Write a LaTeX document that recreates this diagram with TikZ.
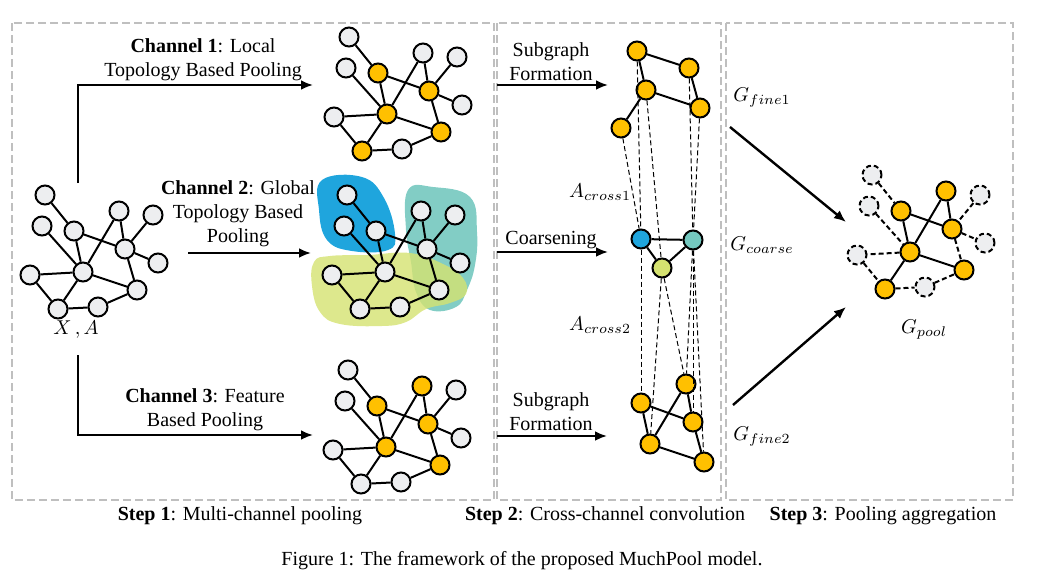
\documentclass[tikz,border=0pt]{standalone}
\usepackage{fontspec}
\setmainfont{Liberation Serif}
\usetikzlibrary{arrows.meta}
\definecolor{gold}{HTML}{FFC000}
\definecolor{lgray}{HTML}{EDEEF0}
\definecolor{cblue}{HTML}{1FA5DD}
\definecolor{cteal}{HTML}{74C8BF}
\definecolor{clime}{HTML}{D5E270}
\definecolor{framegray}{HTML}{BFBFBF}
\tikzstyle{vtx} = [circle, minimum size=9.5pt, inner sep=0pt, draw=black, line width=1pt]
\tikzstyle{gnode} = [vtx, fill=lgray]
\tikzstyle{ynode} = [vtx, fill=gold]
\tikzstyle{dnode} = [vtx, fill=lgray, dash pattern=on 2.5pt off 1.5pt]
\tikzstyle{link} = [line width=1pt]
\tikzstyle{cross} = [line width=0.5pt, dash pattern=on 2.5pt off 1.5pt]
\tikzstyle{panel} = [draw=framegray, line width=0.7pt, dash pattern=on 4pt off 2pt]
\tikzstyle{flow} = [line width=1.2pt, -{Latex[length=6pt,width=5pt]}]
\tikzstyle{lbl} = [align=center, inner sep=0pt]
% one graph, placed around node 8
\newcommand{\graphnodes}[1]{%
  \node[v1] (#1-1) at (-38,-77) {};
  \node[v2] (#1-2) at (-41,-46) {};
  \node[v3] (#1-3) at (-9,-41) {};
  \node[v4] (#1-4) at (36,-61) {};
  \node[v5] (#1-5) at (70,-57) {};
  \node[v6] (#1-6) at (42,-23) {};
  \node[v7] (#1-7) at (75,-9) {};
  \node[v8] (#1-8) at (0,0) {};
  \node[v9] (#1-9) at (-53,3) {};
  \node[v10] (#1-10) at (54,18) {};
  \node[v11] (#1-11) at (-25,37) {};
  \node[v12] (#1-12) at (15,35) {};
}
\newcommand{\graphedges}[1]{%
  \draw[link, ge] (#1-1) -- (#1-3);
  \draw[link, ge] (#1-2) -- (#1-8);
  \draw[link] (#1-3) -- (#1-8);
  \draw[link] (#1-3) -- (#1-6);
  \draw[link] (#1-4) -- (#1-8);
  \draw[link] (#1-4) -- (#1-6);
  \draw[link, ge] (#1-5) -- (#1-6);
  \draw[link, ge] (#1-6) -- (#1-7);
  \draw[link, ge] (#1-6) -- (#1-10);
  \draw[link] (#1-8) -- (#1-10);
  \draw[link] (#1-8) -- (#1-11);
  \draw[link, ge] (#1-8) -- (#1-9);
  \draw[link, ge] (#1-9) -- (#1-11);
  \draw[link, ge] (#1-11) -- (#1-12);
  \draw[link, ge] (#1-12) -- (#1-10);
}
\tikzset{v1/.style=gnode, v2/.style=gnode, v3/.style=gnode, v4/.style=gnode,
  v5/.style=gnode, v6/.style=gnode, v7/.style=gnode, v8/.style=gnode,
  v9/.style=gnode, v10/.style=gnode, v11/.style=gnode, v12/.style=gnode,
  ge/.style={}}

\begin{document}
\begin{tikzpicture}[x=0.5pt, y=-0.5pt]
\useasboundingbox (0,0) rectangle (1044,578);
% panels
\draw[panel] (12,23) rectangle (494,500);
\draw[panel] (497,23) rectangle (721,500);
\draw[panel] (726,23) rectangle (1013,500);

% input graph
\begin{scope}[shift={(83,272)}]
  \graphnodes{in}
  \graphedges{in}
\end{scope}
\node[lbl] (xa) at (76,330) {$X\,,A$};

% channel 1
\begin{scope}[shift={(387,114)}, v3/.style=ynode, v6/.style=ynode, v8/.style=ynode,
  v10/.style=ynode, v11/.style=ynode]
  \graphnodes{ca}
  \graphedges{ca}
\end{scope}

% channel 2, clusters first
\fill[cblue] plot[smooth cycle, tension=0.7] coordinates {(322,180) (362,177) (384,198)
  (395,234) (388,250) (352,251) (327,240) (319,210)};
\fill[cteal, fill opacity=0.9] plot[smooth cycle, tension=0.7] coordinates {(408,190)
  (433,187) (470,197) (477,232) (475,265) (467,290) (456,307) (430,310) (416,292)
  (411,262) (406,230)};
\fill[clime, fill opacity=0.8] plot[smooth cycle, tension=0.7] coordinates {(314,262)
  (330,256) (368,255) (410,253) (443,264) (463,278) (466,294) (450,303) (426,309)
  (406,322) (382,326) (340,324) (320,312) (312,286)};
\begin{scope}[shift={(385,272)}]
  \graphnodes{cb}
  \graphedges{cb}
\end{scope}

% channel 3
\begin{scope}[shift={(386,447)}, v3/.style=ynode, v4/.style=ynode, v6/.style=ynode,
  v8/.style=ynode, v10/.style=ynode]
  \graphnodes{cc}
  \graphedges{cc}
\end{scope}

% channel arrows
\coordinate (in-up) at (78,183);
\coordinate (in-mid) at (188,253);
\coordinate (in-down) at (78,355);
\coordinate (ca-in) at (313,85);
\coordinate (cb-in) at (311,253);
\coordinate (cc-in) at (313,435);
\draw[flow] (in-up) |- (ca-in);
\draw[flow] (in-mid) -- (cb-in);
\draw[flow] (in-down) |- (cc-in);
\node[lbl] (ca-txt) at (203,60) {\textbf{Channel 1}: Local\\Topology Based Pooling};
\node[lbl] (cb-txt) at (238,214) {\textbf{Channel 2}: Global\\Topology Based\\Pooling};
\node[lbl] (cc-txt) at (205,410) {\textbf{Channel 3}: Feature\\Based Pooling};

% step 2: fine 1
\node[ynode] (fa-1) at (637,51) {};
\node[ynode] (fa-2) at (689,68) {};
\node[ynode] (fa-3) at (646,90) {};
\node[ynode] (fa-4) at (700,108) {};
\node[ynode] (fa-5) at (621,128) {};
\draw[link] (fa-1) -- (fa-2);
\draw[link] (fa-1) -- (fa-3);
\draw[link] (fa-2) -- (fa-4);
\draw[link] (fa-3) -- (fa-4);
\draw[link] (fa-3) -- (fa-5);

% coarse
\node[vtx, fill=cblue] (co-1) at (641,239) {};
\node[vtx, fill=cteal] (co-2) at (693,240) {};
\node[vtx, fill=clime] (co-3) at (662,268) {};
\draw[link] (co-1) -- (co-2);
\draw[link] (co-1) -- (co-3);
\draw[link] (co-2) -- (co-3);

% fine 2
\node[ynode] (fb-1) at (686,384) {};
\node[ynode] (fb-2) at (641,403) {};
\node[ynode] (fb-3) at (693,422) {};
\node[ynode] (fb-4) at (650,444) {};
\node[ynode] (fb-5) at (704,462) {};
\draw[link] (fb-2) -- (fb-3);
\draw[link] (fb-2) -- (fb-4);
\draw[link] (fb-1) -- (fb-4);
\draw[link] (fb-1) -- (fb-3);
\draw[link] (fb-3) -- (fb-5);
\draw[link] (fb-4) -- (fb-5);

% cross-channel links
\draw[cross] (fa-5) -- (co-1);
\draw[cross] (fa-1) -- (co-1);
\draw[cross] (fa-3) -- (co-3);
\draw[cross] (fa-2) -- (co-2);
\draw[cross] (fa-4) -- (co-2);
\draw[cross] (co-1) -- (fb-2);
\draw[cross] (co-3) -- (fb-4);
\draw[cross] (co-3) -- (fb-1);
\draw[cross] (co-2) -- (fb-1);
\draw[cross] (co-2) -- (fb-3);
\draw[cross] (co-2) -- (fb-5);

% step 2 arrows and labels
\coordinate (s2a-from) at (497,85);
\coordinate (s2a-to) at (608,85);
\coordinate (s2b-from) at (497,252);
\coordinate (s2b-to) at (608,252);
\coordinate (s2c-from) at (497,436);
\coordinate (s2c-to) at (607,436);
\draw[flow] (s2a-from) -- (s2a-to);
\draw[flow] (s2b-from) -- (s2b-to);
\draw[flow] (s2c-from) -- (s2c-to);
\node[lbl] (sub-a) at (551,62) {Subgraph\\Formation};
\node[lbl] (coars) at (551,240) {Coarsening};
\node[lbl] (sub-b) at (551,412) {Subgraph\\Formation};
\node[lbl] (gfa) at (762,98) {$G_{fine1}$};
\node[lbl] (acr1) at (600,192) {$A_{cross1}$};
\node[lbl] (gco) at (762,245) {$G_{coarse}$};
\node[lbl] (acr2) at (600,325) {$A_{cross2}$};
\node[lbl] (gfb) at (762,437) {$G_{fine2}$};

% step 3: pooled graph
\begin{scope}[shift={(910,252)}, v1/.style=dnode, v2/.style=dnode, v3/.style=ynode,
  v4/.style=ynode, v5/.style=dnode, v6/.style=ynode, v7/.style=dnode, v8/.style=ynode,
  v9/.style=dnode, v10/.style=ynode, v11/.style=ynode, v12/.style=dnode,
  ge/.style={dash pattern=on 2.5pt off 1.5pt}]
  \graphnodes{po}
  \graphedges{po}
\end{scope}
\node[lbl] (gpo) at (924,330) {$G_{pool}$};
\coordinate (s3a-from) at (730,127);
\coordinate (s3a-to) at (846,222);
\coordinate (s3b-from) at (733,405);
\coordinate (s3b-to) at (846,307);
\draw[flow] (s3a-from) -- (s3a-to);
\draw[flow] (s3b-from) -- (s3b-to);

% step titles and caption
\node[lbl] (step1) at (240,516) {\textbf{Step 1}: Multi-channel pooling};
\node[lbl] (step2) at (605,516) {\textbf{Step 2}: Cross-channel convolution};
\node[lbl] (step3) at (883,516) {\textbf{Step 3}: Pooling aggregation};
\node[lbl] (capt) at (522,561) {Figure 1: The framework of the proposed MuchPool model.};
\end{tikzpicture}
\end{document}
